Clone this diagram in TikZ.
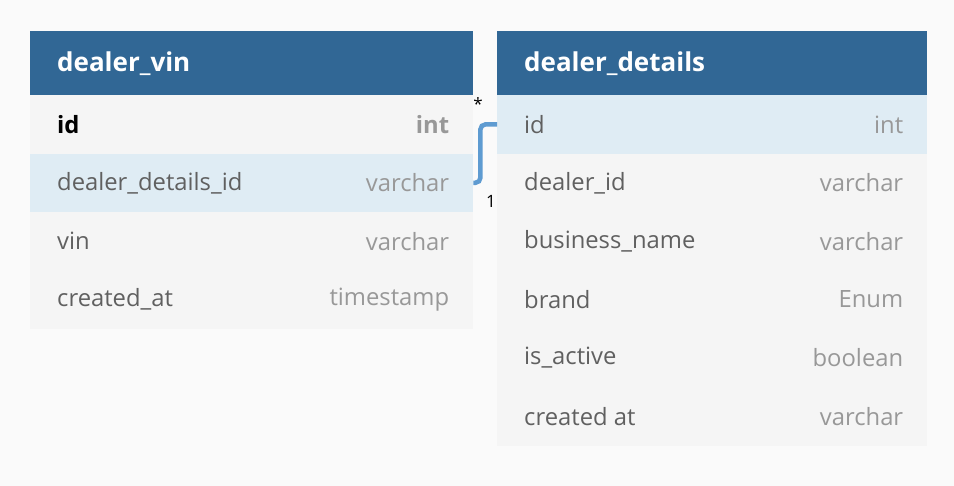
\documentclass[tikz,border=0pt]{standalone}
\usepackage{fontspec}
\setmainfont{Open Sans}
\usetikzlibrary{positioning}
\definecolor{pagebg}{HTML}{FAFAFA}
\definecolor{hdrblue}{HTML}{316795}
\definecolor{rowgray}{HTML}{F5F5F5}
\definecolor{rowblue}{HTML}{DFECF4}
\definecolor{linkblue}{HTML}{5E9BD1}
\definecolor{namegray}{HTML}{606060}
\definecolor{typegray}{HTML}{989898}

\tikzset{
  tblhead/.style={fill=hdrblue, text=white, inner sep=0pt, anchor=north west,
    minimum height=64pt, font=\fontsize{26}{30}\selectfont\bfseries},
  tblrow/.style={inner sep=0pt, anchor=north west, minimum height=58.4pt},
  plain row/.style={fill=rowgray},
  key row/.style={fill=rowgray},
  link row/.style={fill=rowblue},
  fname/.style={anchor=west, inner sep=0pt, text=namegray,
    font=\fontsize{23.8}{28}\selectfont},
  ftype/.style={anchor=east, inner sep=0pt, text=typegray,
    font=\fontsize{23.8}{28}\selectfont},
  plain name/.style={}, link name/.style={},
  key name/.style={text=black, font=\fontsize{23.8}{28}\selectfont\bfseries},
  plain type/.style={}, link type/.style={},
  key type/.style={font=\fontsize{23.8}{28}\selectfont\bfseries},
  relation/.style={draw=linkblue, line width=4.5pt, rounded corners=5pt},
  cardinal/.style={inner sep=0pt, font=\fontsize{17}{20}\selectfont}
}

\begin{document}
\begin{tikzpicture}[x=1pt, y=-1pt]

% Background
\fill[pagebg] (0,0) rectangle (954,486);

% --- Table dealer_vin ---
\node[tblhead, minimum width=443pt] (vinhead) at (30,31) {};
\node[anchor=west, inner sep=0pt, text=white,
      font=\fontsize{26}{30}\selectfont\bfseries]
  (vintitle) at ([xshift=27pt]vinhead.west) {dealer\_vin};

\foreach \fname/\ftype/\rs [count=\i] in {
    id/int/key,
    dealer\_details\_id/varchar/link,
    vin/varchar/plain,
    created\_at/timestamp/plain} {
  \node[tblrow, \rs\space row, minimum width=443pt]
    (vinrow\i) at (30,{95+58.4*(\i-1)}) {};
  \node[fname, \rs\space name] (vinname\i) at ([xshift=27pt]vinrow\i.west) {\fname};
  \node[ftype, \rs\space type] (vintype\i) at ([xshift=-24pt]vinrow\i.east) {\ftype};
}

% --- Table dealer_details ---
\node[tblhead, minimum width=430pt] (dethead) at (497,31) {};
\node[anchor=west, inner sep=0pt, text=white,
      font=\fontsize{26}{30}\selectfont\bfseries]
  (dettitle) at ([xshift=27pt]dethead.west) {dealer\_details};

\foreach \fname/\ftype/\rs [count=\i] in {
    id/int/link,
    dealer\_id/varchar/plain,
    business\_name/varchar/plain,
    brand/Enum/plain,
    is\_active/boolean/plain,
    created at/varchar/plain} {
  \node[tblrow, \rs\space row, minimum width=430pt]
    (detrow\i) at (497,{95+58.4*(\i-1)}) {};
  \node[fname, \rs\space name] (detname\i) at ([xshift=27pt]detrow\i.west) {\fname};
  \node[ftype, \rs\space type] (dettype\i) at ([xshift=-24pt]detrow\i.east) {\ftype};
}

% --- Relation (many to one) ---
\draw[relation] (vinrow2.east) -- ++(7,0) |- (detrow1.west);
\node[cardinal] (manyend) at (478,104) {*};
\node[cardinal] (oneend) at (491,201) {1};

\end{tikzpicture}
\end{document}
